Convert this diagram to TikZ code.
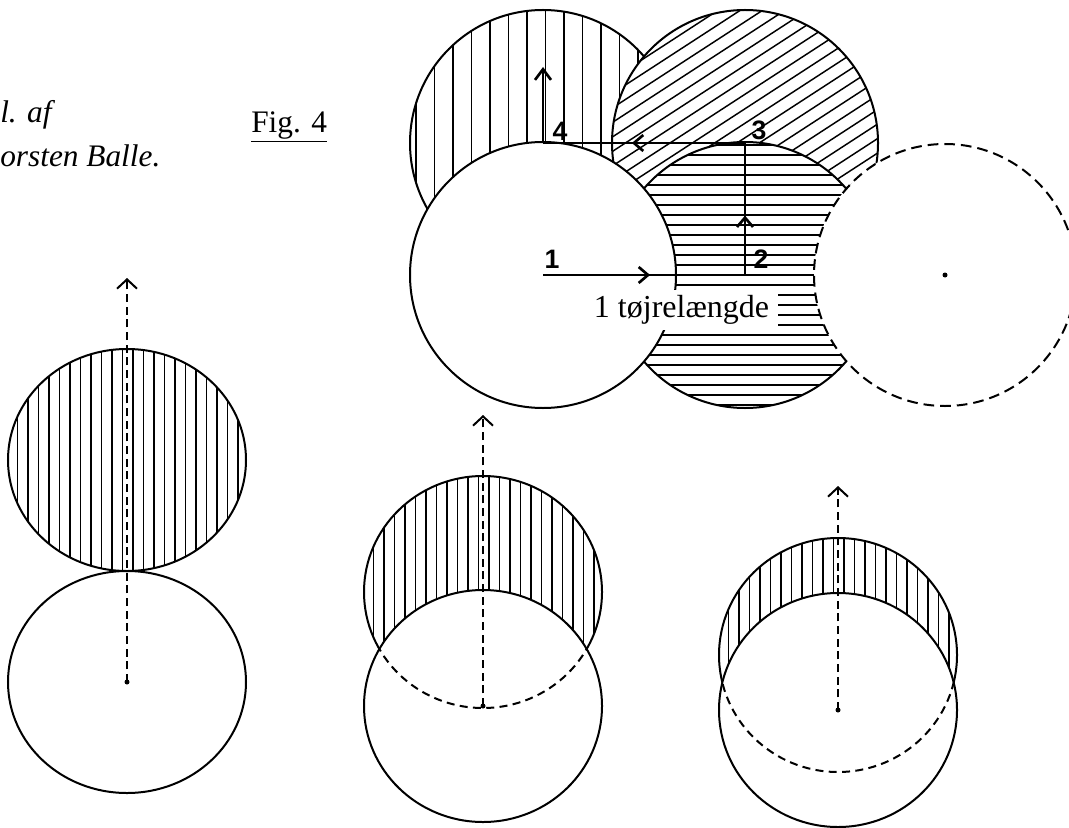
\documentclass[tikz,border=0pt]{standalone}
\usepackage{fontspec}
\setmainfont{Liberation Serif}
\newfontfamily\numfont{Liberation Sans}
\usetikzlibrary{arrows.meta,decorations.markings}

\tikzset{
  rim/.style={line width=1.5pt},
  hatch/.style={line width=1.1pt},
  route/.style={line width=2pt},
  dashrim/.style={line width=1.5pt,dash pattern=on 8pt off 4.5pt},
  walk/.style={line width=1.7pt,dash pattern=on 6pt off 3.5pt,-{Straight Barb[length=7pt,width=15pt,line width=1.5pt]}},
  midarrow/.style={postaction={decorate},decoration={markings,
      mark=at position #1 with {\arrow{Straight Barb[length=7pt,width=12pt]}}}},
  steplabel/.style={font=\numfont\bfseries\fontsize{20}{20}\selectfont,inner sep=0pt},
  caption/.style={font=\fontsize{23.5}{28}\selectfont,inner sep=0pt,anchor=base west},
}

\begin{document}
\begin{tikzpicture}[x=0.75pt,y=-0.75pt]
  \useasboundingbox (0,0) rectangle (1069,827);
  \clip (0,0) rectangle (1069,827);

  % captions
  \node[caption,font=\itshape\fontsize{23.5}{28}\selectfont] (ill) at (0,123) {l. af};
  \node[caption,font=\itshape\fontsize{23.5}{28}\selectfont] (artist) at (0,167) {orsten Balle.};
  \node[caption] (fig) at (251,133) {\underline{Fig. 4}};

  % tether points
  \coordinate (p1) at (543,275);
  \coordinate (p2) at (745,275);
  \coordinate (p3) at (745,143);
  \coordinate (p4) at (543,143);
  \coordinate (p5) at (945,275);
  \coordinate (top4) at (543,67);

  % circle 4, vertical hatch
  \fill[white] (p4) circle (133);
  \begin{scope}
    \clip (p4) circle (133);
    \foreach \x in {416,434.5,...,680} \draw[hatch] (\x,0) -- (\x,290);
  \end{scope}
  \draw[rim] (p4) circle (133);

  % circle 3, oblique hatch
  \fill[white] (p3) circle (133);
  \begin{scope}
    \clip (p3) circle (133);
    \foreach \y in {0,14.5,...,560} \draw[hatch] (600,\y) -- (900,\y-195);
  \end{scope}
  \draw[rim] (p3) circle (133);

  % circle 2, horizontal hatch
  \fill[white] (p2) circle (133);
  \begin{scope}
    \clip (p2) circle (133);
    \foreach \y in {145,155,...,410} \draw[hatch] (600,\y) -- (900,\y);
  \end{scope}
  \draw[rim] (p2) circle (133);

  % next circle, dashed
  \fill[white] (p5) circle (131);
  \draw[dashrim] (p5) circle (131);
  \fill (p5) circle (2.5);

  % start circle
  \draw[rim,fill=white] (p1) circle (133);

  % route
  \draw[route,midarrow=0.53] (p1) -- (p2);
  \draw[route,midarrow=0.45] (p2) -- (p3);
  \draw[route,midarrow=0.56] (p3) -- (p4);
  \draw[route,-{Straight Barb[length=8pt,width=12pt]}] (p4) -- (top4);

  \node[steplabel] (n1) at (552,259) {1};
  \node[steplabel] (n2) at (761,259) {2};
  \node[steplabel] (n3) at (759,130) {3};
  \node[steplabel] (n4) at (560,131) {4};

  \node[fill=white,inner sep=0pt,minimum width=144.75pt,minimum height=30pt,
        font=\fontsize{24}{28}\selectfont] (len) at (681.5,310) {1 tøjrelængde};

  % three grazing steps
  \foreach \i/\cx/\uy/\ly/\ry/\tp in {a/127/460/682/111/278, b/483/592/706/116/415, c/838/655/710/117/486} {
    \begin{scope}
      \clip (\cx,\uy) circle[x radius=119,y radius=\ry];
      \foreach \x in {-120,-109.5,...,125} \draw[hatch] (\cx+\x,\uy-130) -- (\cx+\x,\uy+130);
    \end{scope}
    \draw[rim] (\cx,\uy) circle[x radius=119,y radius=\ry];
    \draw[rim,fill=white] (\cx,\ly) circle[x radius=119,y radius=\ry];
    \begin{scope}
      \clip (\cx,\ly) circle[x radius=119,y radius=\ry];
      \draw[dashrim,dash pattern=on 6pt off 4pt] (\cx,\uy) circle[x radius=119,y radius=\ry];
    \end{scope}
    \coordinate (base\i) at (\cx,\ly);
    \coordinate (tip\i) at (\cx,\tp);
    \fill (base\i) circle (2.5);
    \draw[walk] (base\i) -- (tip\i);
  }
\end{tikzpicture}
\end{document}
